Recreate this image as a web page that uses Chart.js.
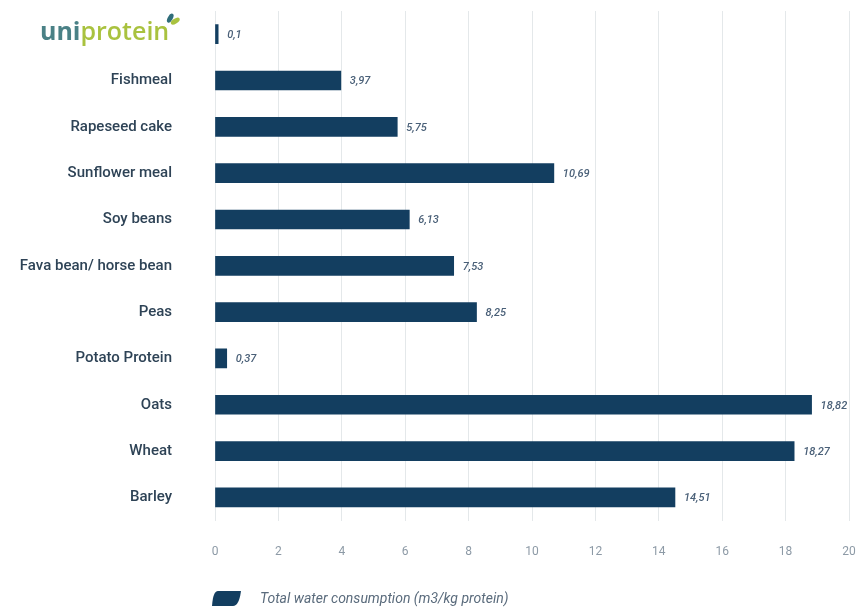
<!DOCTYPE html>
<html>
<head>
<meta charset="utf-8">
<script src="https://cdn.jsdelivr.net/npm/chart.js@4.4.0/dist/chart.umd.min.js"></script>
<style>
html,body{margin:0;padding:0;background:#fff;}
#wrap{width:856px;height:610px;position:relative;}
</style>
</head>
<body>
<div id="wrap"><canvas id="c" width="856" height="610"></canvas></div>
<script>
const categories = ["uniprotein", "Fishmeal", "Rapeseed cake", "Sunflower meal", "Soy beans", "Fava bean/ horse bean", "Peas", "Potato Protein", "Oats", "Wheat", "Barley"];
const values = [0.1, 3.97, 5.75, 10.69, 6.13, 7.53, 8.25, 0.37, 18.82, 18.27, 14.51];
const valueLabels = ["0,1", "3,97", "5,75", "10,69", "6,13", "7,53", "8,25", "0,37", "18,82", "18,27", "14,51"];
const xTicks = [0, 2, 4, 6, 8, 10, 12, 14, 16, 18, 20];
const seriesName = "Total water consumption (m3/kg protein)";

const BAR = "#133e60";
const LABEL_FONT = "'Roboto', sans-serif";

const extras = {
  id: 'extras',
  afterDatasetsDraw(chart) {
    const ctx = chart.ctx;
    const meta = chart.getDatasetMeta(0);
    ctx.save();
    ctx.font = "italic 500 11px " + LABEL_FONT;
    ctx.fillStyle = "#4a6078";
    ctx.textBaseline = "middle";
    ctx.textAlign = "left";
    meta.data.forEach((bar, i) => {
      ctx.fillText(valueLabels[i], bar.x + 9, bar.y + 1);
    });
    ctx.restore();
  },
  afterDraw(chart) {
    const ctx = chart.ctx;
    const y = chart.scales.y;
    const py = y.getPixelForTick(0);
    ctx.save();
    // logo text
    ctx.font = "bold 25px 'Open Sans', 'DejaVu Sans', sans-serif";
    ctx.textBaseline = "middle";
    ctx.textAlign = "left";
    const x0 = 40;
    ctx.fillStyle = "#4a8186";
    ctx.fillText("uni", x0, py - 1);
    const w = ctx.measureText("uni").width;
    ctx.fillStyle = "#a9c23f";
    ctx.font = "600 25px 'Open Sans', 'DejaVu Sans', sans-serif";
    ctx.fillText("protein", x0 + w, py - 1);
    const w2 = ctx.measureText("protein").width;
    // leaves
    const lx = x0 + w + w2 + 1, ly = py - 16;
    ctx.fillStyle = "#2f6d7a";
    ctx.beginPath(); ctx.ellipse(lx, ly, 2.5, 5, 0.5, 0, Math.PI * 2); ctx.fill();
    ctx.fillStyle = "#a9c23f";
    ctx.beginPath(); ctx.ellipse(lx + 5, ly + 3, 2.5, 5, 1.0, 0, Math.PI * 2); ctx.fill();

    // legend
    const ds = chart.data.datasets[0];
    const bx = 212, by = 591, bw = 29, bh = 15;
    ctx.fillStyle = ds.backgroundColor;
    ctx.beginPath();
    ctx.moveTo(bx + 6, by);
    ctx.lineTo(bx + bw, by);
    ctx.quadraticCurveTo(bx + bw - 2, by + bh, bx + bw - 8, by + bh);
    ctx.lineTo(bx, by + bh);
    ctx.quadraticCurveTo(bx + 1, by, bx + 6, by);
    ctx.closePath();
    ctx.fill();
    ctx.font = "italic 14px " + LABEL_FONT;
    ctx.fillStyle = "#5a6b7c";
    ctx.textBaseline = "middle";
    ctx.fillText(ds.label, 260, by + 8);
    ctx.restore();
  }
};

new Chart(document.getElementById('c'), {
  type: 'bar',
  data: {
    labels: categories,
    datasets: [{
      label: seriesName,
      data: values,
      backgroundColor: BAR,
      borderWidth: 0,
      barThickness: 19
    }]
  },
  options: {
    indexAxis: 'y',
    responsive: false,
    animation: false,
    layout: { padding: { top: 11, right: 7, bottom: 27, left: 0 } },
    plugins: {
      legend: { display: false },
      tooltip: { enabled: false }
    },
    scales: {
      x: {
        min: 0, max: 20,
        afterBuildTicks(scale) { scale.ticks = xTicks.map(v => ({ value: v })); },
        afterFit(scale) { scale.paddingLeft = 0; scale.paddingRight = 0; },
        grid: { color: "#e4e8ea", drawTicks: false, lineWidth: 1 },
        border: { display: false },
        ticks: {
          padding: 24,
          color: "#8d9aa6",
          font: { size: 12, family: LABEL_FONT }
        }
      },
      y: {
        afterFit(scale) { scale.width = 215; scale.paddingTop = 0; scale.paddingBottom = 0; },
        grid: { display: false, drawTicks: false },
        border: { display: false },
        ticks: {
          padding: 43,
          color: "#2e4356",
          font: { size: 15, weight: 500, family: LABEL_FONT },
          callback(v, i) { return i === 0 ? "" : categories[i]; }
        }
      }
    }
  },
  plugins: [extras]
});
</script>
</body>
</html>
